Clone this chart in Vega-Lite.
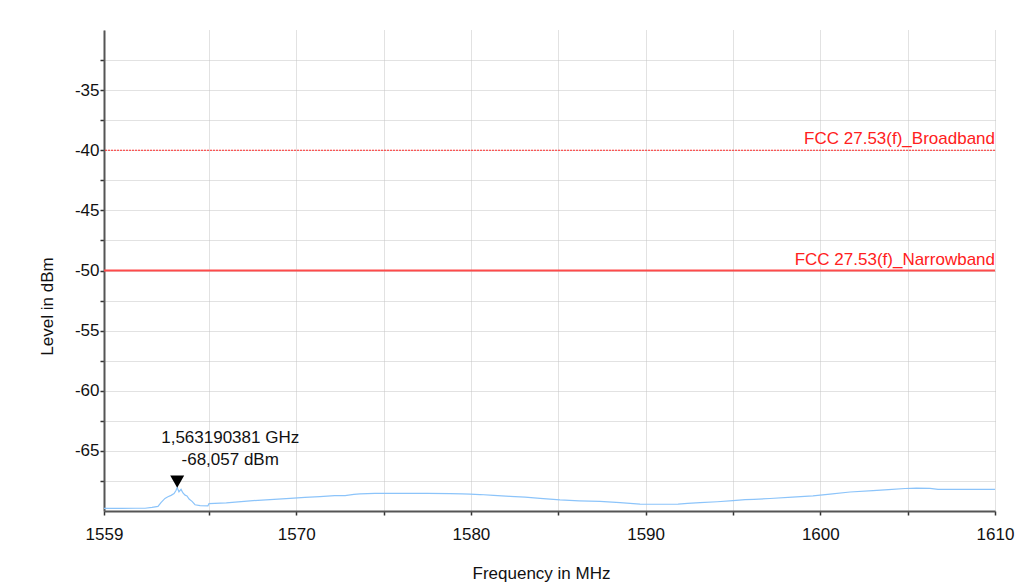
{
  "$schema": "https://vega.github.io/schema/vega-lite/v6.json",
  "width": 891,
  "height": 481,
  "autosize": "none",
  "padding": {"left": 104, "top": 30, "right": 27, "bottom": 74},
  "background": "white",
  "config": {
    "font": "Liberation Sans",
    "view": {"stroke": null},
    "axis": {
      "labelFont": "Liberation Sans",
      "titleFont": "Liberation Sans",
      "labelFontSize": 17,
      "titleFontSize": 17,
      "labelColor": "#111",
      "titleColor": "#111",
      "titleFontWeight": "normal",
      "labelOverlap": false,
      "labelFlush": false,
      "domainColor": "#555",
      "domainWidth": 2,
      "tickColor": "#333",
      "tickWidth": 1.5,
      "tickSize": 4,
      "gridColor": "#c4c4c4",
      "gridDash": [1, 1],
      "gridWidth": 1
    }
  },
  "datasets": {
    "trace": [
      {"f": 1559.0, "lvl": -69.78},
      {"f": 1560.0, "lvl": -69.78},
      {"f": 1560.8, "lvl": -69.77},
      {"f": 1561.35, "lvl": -69.77},
      {"f": 1561.75, "lvl": -69.7},
      {"f": 1562.09, "lvl": -69.62},
      {"f": 1562.26, "lvl": -69.3},
      {"f": 1562.49, "lvl": -68.95},
      {"f": 1562.66, "lvl": -68.82},
      {"f": 1562.84, "lvl": -68.7},
      {"f": 1563.01, "lvl": -68.55},
      {"f": 1563.12, "lvl": -68.3},
      {"f": 1563.19, "lvl": -68.057},
      {"f": 1563.29, "lvl": -68.4},
      {"f": 1563.41, "lvl": -68.2},
      {"f": 1563.52, "lvl": -68.5},
      {"f": 1563.64, "lvl": -68.68},
      {"f": 1563.75, "lvl": -68.75},
      {"f": 1563.87, "lvl": -69.0},
      {"f": 1564.04, "lvl": -69.2},
      {"f": 1564.21, "lvl": -69.48},
      {"f": 1564.5, "lvl": -69.55},
      {"f": 1564.95, "lvl": -69.57},
      {"f": 1565.01, "lvl": -69.38},
      {"f": 1566.0, "lvl": -69.32},
      {"f": 1567.36, "lvl": -69.15},
      {"f": 1568.5, "lvl": -69.05},
      {"f": 1569.65, "lvl": -68.95},
      {"f": 1570.5, "lvl": -68.86},
      {"f": 1571.36, "lvl": -68.8},
      {"f": 1572.2, "lvl": -68.72},
      {"f": 1572.8, "lvl": -68.72},
      {"f": 1573.3, "lvl": -68.62},
      {"f": 1573.65, "lvl": -68.57},
      {"f": 1574.51, "lvl": -68.54},
      {"f": 1576.0, "lvl": -68.54},
      {"f": 1577.5, "lvl": -68.54},
      {"f": 1578.81, "lvl": -68.55},
      {"f": 1579.5, "lvl": -68.58},
      {"f": 1579.95, "lvl": -68.6},
      {"f": 1580.52, "lvl": -68.63},
      {"f": 1581.3, "lvl": -68.7},
      {"f": 1582.24, "lvl": -68.78},
      {"f": 1583.1, "lvl": -68.85},
      {"f": 1583.96, "lvl": -68.95},
      {"f": 1585.1, "lvl": -69.07},
      {"f": 1586.2, "lvl": -69.15},
      {"f": 1587.39, "lvl": -69.2},
      {"f": 1588.54, "lvl": -69.3},
      {"f": 1589.68, "lvl": -69.42},
      {"f": 1590.8, "lvl": -69.44},
      {"f": 1591.86, "lvl": -69.43},
      {"f": 1592.4, "lvl": -69.36},
      {"f": 1593.12, "lvl": -69.31},
      {"f": 1594.1, "lvl": -69.23},
      {"f": 1595.0, "lvl": -69.14},
      {"f": 1595.7, "lvl": -69.06},
      {"f": 1596.2, "lvl": -69.03},
      {"f": 1597.12, "lvl": -68.96},
      {"f": 1598.4, "lvl": -68.85},
      {"f": 1599.58, "lvl": -68.75},
      {"f": 1600.56, "lvl": -68.6},
      {"f": 1601.7, "lvl": -68.42},
      {"f": 1603.02, "lvl": -68.3},
      {"f": 1603.9, "lvl": -68.22},
      {"f": 1604.85, "lvl": -68.13},
      {"f": 1605.5, "lvl": -68.1},
      {"f": 1606.28, "lvl": -68.12},
      {"f": 1606.74, "lvl": -68.2},
      {"f": 1608.0, "lvl": -68.2},
      {"f": 1610.0, "lvl": -68.2}
    ],
    "limits": [
      {"lvl": -40, "name": "FCC 27.53(f)_Broadband", "kind": "broad", "f": 1610},
      {"lvl": -50, "name": "FCC 27.53(f)_Narrowband", "kind": "narrow", "f": 1610}
    ],
    "marker": [
      {"f": 1563.19, "lvl": -68.057, "line1": "1,563190381 GHz", "line2": "-68,057 dBm"}
    ]
  },
  "encoding": {
    "x": {
      "field": "f",
      "type": "quantitative",
      "scale": {"domain": [1559, 1610], "nice": false, "zero": false},
      "axis": {
        "title": "Frequency in MHz",
        "values": [1559, 1565, 1570, 1575, 1580, 1585, 1590, 1595, 1600, 1605, 1610],
        "labelExpr": "(datum.value == 1559 || datum.value % 10 == 0) ? datum.value : ''",
        "labelPadding": 11,
        "titleX": 437,
        "titleY": 67,
        "titleBaseline": "alphabetic",
        "titleAnchor": "middle"
      }
    },
    "y": {
      "field": "lvl",
      "type": "quantitative",
      "scale": {"domain": [-70, -30], "nice": false, "zero": false},
      "axis": {
        "title": "Level in dBm",
        "values": [-67.5, -65, -62.5, -60, -57.5, -55, -52.5, -50, -47.5, -45, -42.5, -40, -37.5, -35, -32.5],
        "labelExpr": "(round(datum.value) == datum.value && round(datum.value) % 5 == 0) ? ('' + datum.value) : ''",
        "labelPadding": 1,
        "titlePadding": 18,
        "titleY": 276
      }
    }
  },
  "layer": [
    {
      "data": {"name": "trace"},
      "mark": {"type": "line", "color": "#8cc4fa", "strokeWidth": 1.2, "interpolate": "linear"}
    },
    {
      "data": {"name": "limits"},
      "transform": [{"filter": "datum.kind == 'broad'"}],
      "mark": {"type": "rule", "color": "#ff2a2a", "strokeWidth": 1, "strokeDash": [2, 1]},
      "encoding": {"x": null}
    },
    {
      "data": {"name": "limits"},
      "transform": [{"filter": "datum.kind == 'narrow'"}],
      "mark": {"type": "rule", "color": "#ff4a4a", "strokeWidth": 2.2},
      "encoding": {"x": null}
    },
    {
      "data": {"name": "limits"},
      "mark": {"type": "text", "align": "right", "baseline": "bottom", "dy": -2, "fontSize": 17, "color": "#ff2020", "font": "Liberation Sans"},
      "encoding": {"text": {"field": "name"}}
    },
    {
      "data": {"name": "marker"},
      "mark": {"type": "point", "shape": "M -1 -1.75 L 1 -1.75 L 0 0 Z", "size": 196, "filled": true, "color": "black", "opacity": 1}
    },
    {
      "data": {"name": "marker"},
      "mark": {"type": "text", "align": "center", "baseline": "middle", "dx": 53, "dy": -50, "fontSize": 17, "color": "#111", "font": "Liberation Sans"},
      "encoding": {"text": {"field": "line1"}}
    },
    {
      "data": {"name": "marker"},
      "mark": {"type": "text", "align": "center", "baseline": "middle", "dx": 53, "dy": -28, "fontSize": 17, "color": "#111", "font": "Liberation Sans"},
      "encoding": {"text": {"field": "line2"}}
    }
  ]
}
